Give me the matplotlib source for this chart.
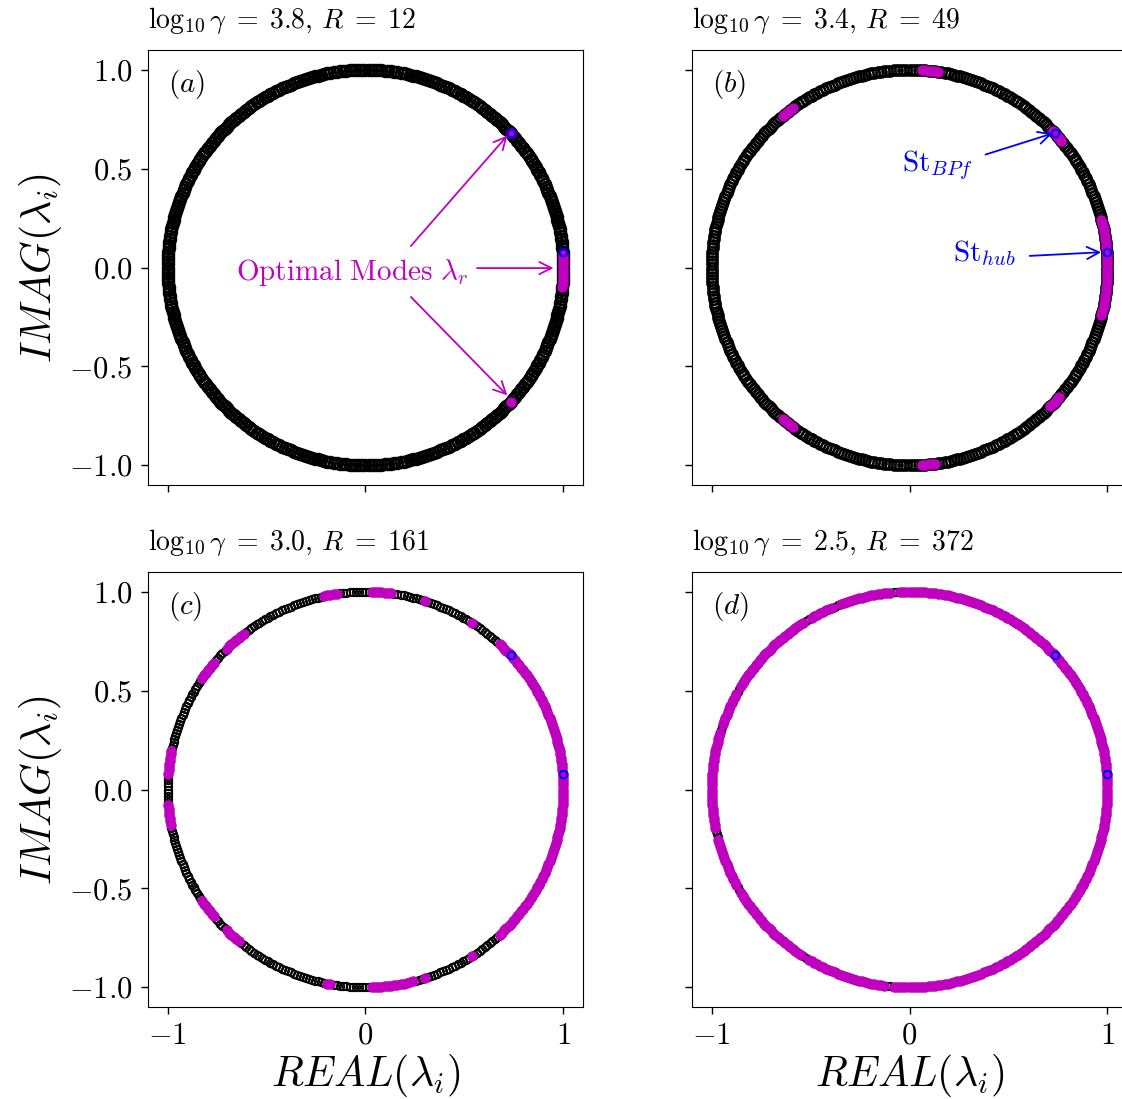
import numpy as np
import matplotlib
matplotlib.use("Agg")
import matplotlib.pyplot as plt

plt.rcParams['font.family'] = 'serif'
plt.rcParams['font.serif'] = ['cmr10', 'DejaVu Serif']
plt.rcParams['mathtext.fontset'] = 'cm'
plt.rcParams['axes.formatter.use_mathtext'] = True
plt.rcParams['axes.unicode_minus'] = True

# DMD spectrum: eigenvalues sit on the unit circle
n_eigs = 388
eig_angles = np.linspace(-180.0, 180.0, n_eigs, endpoint=False)

# sparsity-promoting runs: log10(gamma), number of retained modes R
log_gamma = [3.8, 3.4, 3.0, 2.5]
n_retained = [12, 49, 161, 372]
panel_tags = ['a', 'b', 'c', 'd']

# angular ranges (deg) of the retained modes for each run
kept_arcs = [
    [(-5.6, 4.6), (42.3, 43.3), (-43.3, -42.3)],
    [(-14.0, 14.5), (39.0, 44.0), (-45.0, -40.0), (81.0, 87.0), (-87.0, -82.5),
     (126.0, 130.0), (-130.0, -126.0)],
    [(-48.0, 48.0), (57.0, 58.2), (71.5, 72.6), (82.0, 88.5), (97.5, 102.5),
     (128.0, 135.0), (140.0, 146.0), (168.5, 175.5),
     (-58.2, -57.0), (-72.6, -71.5), (-88.5, -76.0), (-102.0, -99.5),
     (-135.0, -129.0), (-146.0, -140.0), (-175.5, -169.0)],
    [(-180.0, -168.0), (-166.0, -151.0), (-149.0, -123.0), (-121.0, -97.0),
     (-95.0, 93.5), (95.5, 111.0), (113.0, 120.5), (122.0, 149.0),
     (151.0, 161.0), (163.0, 180.0)],
]

# reference Strouhal numbers, as eigenvalue angles (deg)
st_angles = {'hub': 4.6, 'BPf': 42.8}

fig = plt.figure(figsize=(11.22, 10.99), dpi=100)
W, H = 1122.0, 1099.0
boxes = [(148, 50), (692, 50), (148, 572), (692, 572)]
axes = []
for (x0, y0) in boxes:
    axes.append(fig.add_axes([x0 / W, 1 - (y0 + 435) / H, 435 / W, 435 / H]))

black_ms = [8, 7.5, 5.5, 5.5]
black_mew = [1.7, 1.6, 1.2, 1.2]

for k, ax in enumerate(axes):
    lam = np.exp(1j * np.deg2rad(eig_angles))
    sel = np.zeros(n_eigs, dtype=bool)
    for lo, hi in kept_arcs[k]:
        sel |= (eig_angles >= lo) & (eig_angles <= hi)

    ax.plot(lam.real, lam.imag, 'o', mfc='none', mec='k',
            ms=black_ms[k], mew=black_mew[k])
    ax.plot(lam[sel].real, lam[sel].imag, 'o', color='m', ms=7.5, mew=0)
    st = np.exp(1j * np.deg2rad(np.array(list(st_angles.values()))))
    ax.plot(st.real, st.imag, 'o', mfc='none', mec='b', ms=5.5, mew=1.5)

    ax.set_xlim(-1.1, 1.1)
    ax.set_ylim(-1.1, 1.1)
    ax.set_xticks([-1, 0, 1])
    ax.set_yticks([-1.0, -0.5, 0.0, 0.5, 1.0])
    ax.tick_params(labelsize=22, length=5, width=1, pad=6)
    if k < 2:
        ax.tick_params(labelbottom=False)
    else:
        ax.set_xlabel(r'$REAL(\lambda_i)$', fontsize=30, labelpad=2)
    if k % 2 == 1:
        ax.tick_params(labelleft=False)
    else:
        ax.set_ylabel(r'$IMAG(\lambda_i)$', fontsize=30, labelpad=4)
    ax.set_title(r'$\log_{10}\gamma\;=\;%.1f,\,R\;=\;%d$' % (log_gamma[k], n_retained[k]),
                 loc='left', fontsize=20, pad=16)
    ax.text(0.045, 0.92, r'$(%s)$' % panel_tags[k], transform=ax.transAxes,
            fontsize=21, va='center', ha='left')

# (a): point out the retained modes
ax = axes[0]
ax.text(-0.07, -0.023, r'$\mathrm{Optimal\ Modes}\ \lambda_r$', color='m',
        fontsize=21, ha='center', va='center')
mag_arrow = dict(arrowstyle='->', color='m', lw=1.3, mutation_scale=22)
ax.annotate('', xy=(0.727, 0.678), xytext=(0.22, 0.098), arrowprops=mag_arrow)
ax.annotate('', xy=(0.965, -0.003), xytext=(0.55, -0.003), arrowprops=mag_arrow)
ax.annotate('', xy=(0.727, -0.657), xytext=(0.22, -0.139), arrowprops=mag_arrow)

# (b): label the two reference frequencies
ax = axes[1]
blue_arrow = dict(arrowstyle='->', color='b', lw=1.3, mutation_scale=22)
ax.text(0.142, 0.516, r'$\mathrm{St}_{BPf}$', color='b', fontsize=21,
        ha='center', va='center')
ax.annotate('', xy=(0.736, 0.682), xytext=(0.371, 0.567), arrowprops=blue_arrow)
ax.text(0.381, 0.073, r'$\mathrm{St}_{hub}$', color='b', fontsize=21,
        ha='center', va='center')
ax.annotate('', xy=(0.983, 0.078), xytext=(0.594, 0.058), arrowprops=blue_arrow)

plt.savefig('out.png', dpi=100)
